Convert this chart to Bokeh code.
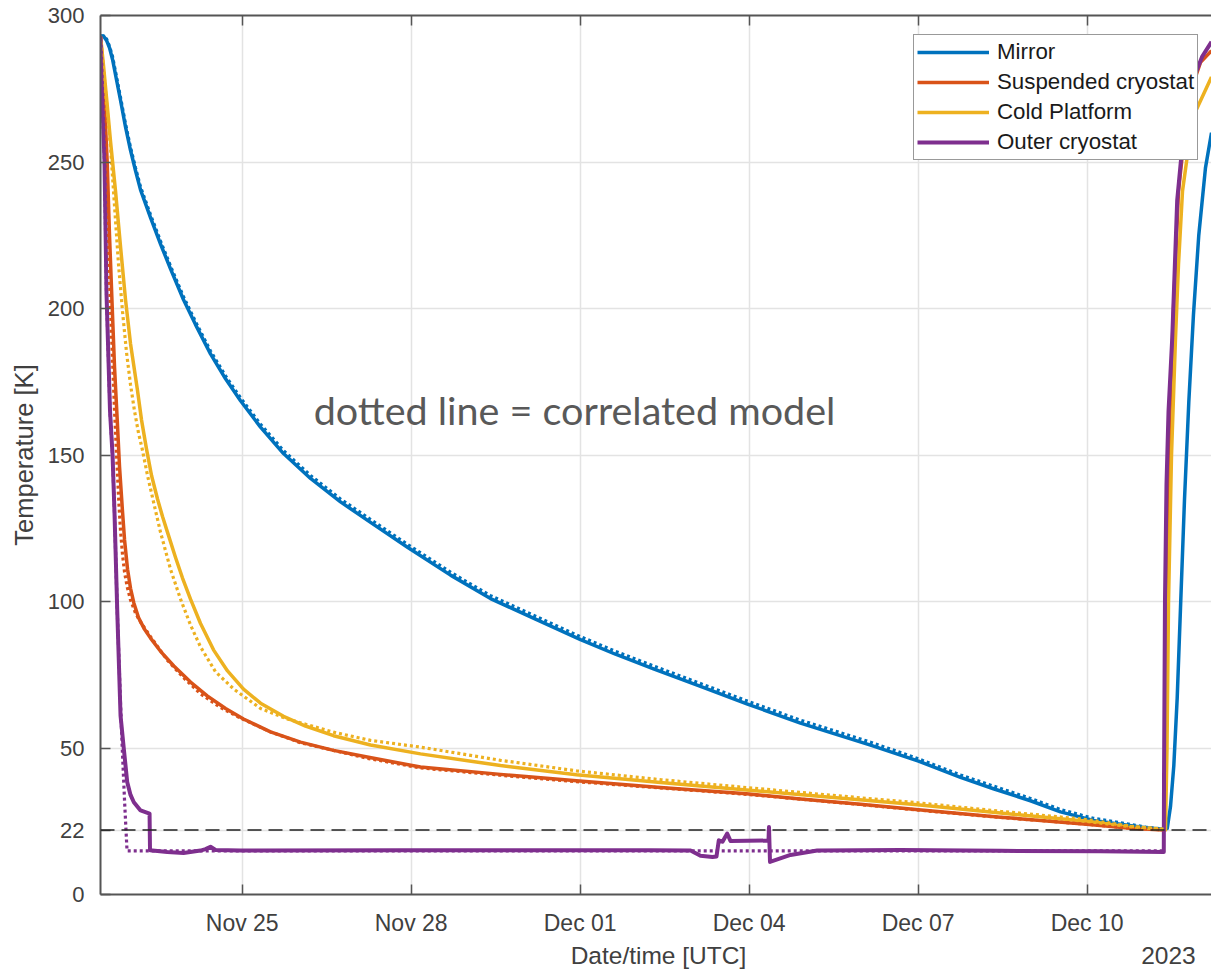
from datetime import datetime, timedelta
from bokeh.plotting import figure
from bokeh.models import (Range1d, FixedTicker, DatetimeTickFormatter, DatetimeAxis,
                          Span, Label, Legend, LegendItem)
from bokeh.embed import file_html
from bokeh.resources import INLINE

# ---------------- data (days since 2023-11-22 00:00 UTC, temperature in K) -------------
mirror_t = [0.484, 0.537, 0.591, 0.644, 0.698, 0.769, 0.840, 0.928, 1.017, 1.106, 1.195, 1.372,
            1.550, 1.727, 1.958, 2.171, 2.437, 2.704, 2.970, 3.325, 3.733, 4.213, 4.745,
            5.278, 5.934, 6.698, 7.408, 8.207, 9.006, 9.627, 10.302, 11.136, 11.970, 12.911,
            14.154, 15.006, 15.752, 16.337, 16.994, 17.527, 18.113, 18.592, 19.036, 19.356,
            19.422, 19.480, 19.539, 19.599, 19.658, 19.729, 19.805, 19.888, 19.982, 20.101, 20.208]
mirror_T = [293, 293, 291.5, 289, 285, 278, 271, 262, 254, 247, 240.5, 231,
            222, 213.5, 203, 194.5, 184.5, 176, 168.5, 159.5, 150.5, 142, 134,
            127, 118.5, 109, 101, 94, 87, 82, 77, 71, 65, 58.5,
            51, 45.5, 40, 36.1, 32, 28.2, 25.3, 24.0, 22.8, 22.3,
            22.5, 30, 44, 67, 98, 135, 168, 198, 225, 248, 260]
mirror_model_t = mirror_t[:44]
mirror_model_T = [293, 293, 292, 289.5, 286, 279, 272, 263, 255, 248, 241.5, 232,
                  223, 214.5, 204, 195.5, 185.5, 177, 169.5, 160.5, 151.5, 143, 135,
                  128, 119.5, 110, 102, 95, 88, 83, 78, 72, 66, 59.5,
                  52, 46.3, 40.8, 37, 32.8, 29, 26, 24.5, 23, 22.3]

susp_t = [0.484, 0.520, 0.555, 0.603, 0.644, 0.693, 0.733, 0.781, 0.822, 0.870, 0.911, 0.964,
          1.017, 1.076, 1.159, 1.266, 1.372, 1.550, 1.786, 2.082, 2.379, 2.704, 3.023, 3.502,
          4.035, 4.621, 5.219, 6.165, 7.586, 8.935, 10.426, 11.953, 12.911, 13.977, 15.006,
          16.462, 17.989, 18.770, 19.356,
          19.374, 19.391, 19.418, 19.463, 19.534, 19.622, 19.799, 20.013, 20.208]
susp_T = [293, 283, 270, 250, 225, 200, 180, 162, 146, 132, 121, 111,
          104.5, 99.5, 94.5, 90.5, 87.5, 83, 78, 72.5, 67.8, 63.5, 59.9, 55.5,
          52, 49.2, 46.9, 43.5, 41, 38.8, 36.5, 34.4, 32.6, 30.8, 28.9,
          26.4, 24, 22.6, 22,
          22, 60, 110, 160, 200, 240, 272, 284, 288]
susp_model_t = [0.484, 0.537, 0.573, 0.617, 0.662, 0.698, 0.733, 0.769, 0.809, 0.840, 0.875,
                0.911, 0.958, 1.017, 1.106, 1.195, 1.372, 1.669, 1.958, 2.260, 2.615, 2.970,
                3.502, 4.035, 5.219, 6.165, 7.586, 8.935, 11.953, 13.977, 15.006, 16.462,
                17.989, 18.770, 19.356]
susp_model_T = [293, 270, 250, 225, 200, 182, 165, 150, 134, 124, 116,
                110, 105, 100.5, 96, 93, 88, 80, 74, 68.5, 63.8, 60.2,
                55.5, 51.8, 46.5, 43.2, 40.7, 38.5, 34.2, 30.7, 28.8, 26.3,
                24.0, 22.6, 22.1]

cold_t = [0.484, 0.537, 0.591, 0.662, 0.751, 0.840, 0.928, 1.017, 1.141, 1.212, 1.301, 1.390,
          1.496, 1.585, 1.674, 1.816, 1.940, 2.082, 2.260, 2.490, 2.739, 3.023, 3.325, 3.733,
          4.124, 4.621, 5.278, 6.165, 7.586, 8.935, 10.426, 11.953, 13.444, 14.988, 16.462,
          17.989, 18.770, 19.356,
          19.391, 19.418, 19.445, 19.498, 19.569, 19.622, 19.693, 19.871, 20.208]
cold_T = [293, 283, 272, 257, 240, 221, 203, 188, 172, 162, 152, 143,
          135, 129, 123.6, 115, 108, 100.8, 92.5, 83.5, 76.3, 70.1, 65.3, 60.8,
          57.5, 54.2, 51, 48, 44, 40.9, 38.2, 35.7, 33.2, 30.6, 27.8,
          25.0, 23.2, 22.2,
          22, 50, 100, 150, 190, 215, 240, 265, 279]
cold_model_t = [0.484, 0.555, 0.662, 0.733, 0.804, 0.875, 0.946, 1.017, 1.088, 1.159, 1.225,
                1.319, 1.425, 1.550, 1.727, 1.905, 2.082, 2.260, 2.526, 2.851, 3.325, 3.799,
                4.621, 5.278, 6.165, 7.586, 8.935, 10.426, 11.953, 13.444, 14.988, 16.462,
                17.989, 18.770, 19.356]
cold_model_T = [293, 278, 255, 235, 215, 199, 185, 174, 165, 157.5, 152,
                143, 134, 123.6, 111, 100.8, 92, 84.5, 76, 70.1, 63.5, 59.9,
                55.4, 52.6, 50.3, 45.8, 42.2, 39.2, 36.5, 33.9, 31.3, 28.4,
                25.6, 23.3, 22.3]

outer_t = [0.484, 0.520, 0.555, 0.591, 0.653, 0.698, 0.733, 0.781, 0.840, 0.898, 0.958, 1.017,
           1.076, 1.195, 1.355, 1.363, 1.669, 1.958, 2.260, 2.349, 2.437, 2.526, 2.970, 5.810,
           10.249, 10.959, 11.136, 11.349, 11.420, 11.461, 11.527, 11.610, 11.668, 12.343,
           12.352, 12.370, 12.734, 13.208, 14.687, 16.462, 18.237, 19.361, 19.365, 19.382,
           19.409, 19.445, 19.511, 19.599, 19.776, 20.043, 20.208]
outer_T = [293, 270, 250, 205, 165, 150, 130, 97, 61, 49.7, 38.4, 34,
           31.5, 28.7, 27.6, 15.1, 14.5, 14.2, 15.0, 15.5, 16.3, 15.2, 15.0, 15.1,
           15.1, 15.0, 13.2, 12.8, 13.0, 18.5, 18.0, 20.8, 18.3, 18.4,
           23, 11.1, 13.5, 15.0, 15.2, 14.9, 14.8, 14.5, 40, 100,
           140, 165, 190, 237, 273, 286, 291]
outer_model_t = [0.484, 0.520, 0.555, 0.591, 0.653, 0.698, 0.733, 0.781, 0.840, 0.870, 0.911,
                 0.955, 19.361]
outer_model_T = [293, 270, 250, 205, 165, 150, 130, 97, 65, 50, 32, 14.9, 14.9]

x_tick_days = [3, 6, 9, 12, 15, 18]          # Nov 25 ... Dec 10
y_ticks = [0, 22, 50, 100, 150, 200, 250, 300]
threshold = 22
x_start_day, x_end_day = 0.484, 20.208
xlabel_day, year_day = 10.390, 19.444

series_names = ["Mirror", "Suspended cryostat", "Cold Platform", "Outer cryostat"]
colors = ["#0072BD", "#D95319", "#EDB120", "#7E2F8E"]
solid_widths = [3.5, 3.5, 3.5, 4.0]

# ---------------- helpers -------------
BASE = datetime(2023, 11, 22)
EPOCH = datetime(1970, 1, 1)


def ms(d):
    return float(round((BASE + timedelta(days=d) - EPOCH).total_seconds() * 1000.0))


def to_ms(days):
    return [ms(d) for d in days]


p = figure(width=1211, height=971, x_axis_type="datetime",
           x_range=Range1d(ms(x_start_day), ms(x_end_day)), y_range=Range1d(0, 300),
           output_backend="svg", toolbar_location=None,
           min_border_left=100, min_border_right=0, min_border_top=15, min_border_bottom=75)
p.outline_line_color = None
p.background_fill_color = "white"
p.border_fill_color = "white"

FONT = "Liberation Sans"
tick_color = "#404040"
axis_color = "#555555"

xticker = FixedTicker(ticks=to_ms(x_tick_days))
fmt = DatetimeTickFormatter(days="%b %d", months="%b %d", hours="%b %d", years="%b %d")
xax = p.xaxis[0]
yax = p.yaxis[0]
xax.ticker = xticker
xax.formatter = fmt
yax.ticker = FixedTicker(ticks=y_ticks)

for ax in (xax, yax):
    ax.major_tick_in = 10
    ax.major_tick_out = 0
    ax.minor_tick_in = 0
    ax.minor_tick_out = 0
    ax.major_tick_line_color = axis_color
    ax.major_tick_line_width = 1.5
    ax.axis_line_color = axis_color
    ax.axis_line_width = 2
    ax.major_label_text_font = FONT
    ax.major_label_text_color = tick_color
    ax.axis_label_text_font = FONT
    ax.axis_label_text_font_style = "normal"
    ax.axis_label_text_color = tick_color

xax.major_label_text_font_size = "23px"
yax.major_label_text_font_size = "22px"
xax.major_label_standoff = 15
yax.axis_label = "Temperature [K]"
yax.axis_label_text_font_size = "25.5px"
yax.major_label_standoff = 16
yax.axis_label_standoff = 7

# second row below the tick labels: x label and year
xl_ms, yr_ms = ms(xlabel_day), ms(year_day)
row2 = DatetimeAxis(ticker=FixedTicker(ticks=[xl_ms, yr_ms]), formatter=fmt,
                    major_label_overrides={xl_ms: "Date/time [UTC]", yr_ms: "2023"},
                    axis_line_color=None, major_tick_line_color=None,
                    major_tick_in=0, major_tick_out=0, minor_tick_in=0, minor_tick_out=0,
                    major_label_standoff=3, major_label_text_font=FONT,
                    major_label_text_font_size="24.5px", major_label_text_color=tick_color)
p.add_layout(row2, "below")

top = DatetimeAxis(ticker=xticker, formatter=fmt, major_label_text_font_size="1px",
                   major_label_text_color=None,
                   major_tick_in=10, major_tick_out=0, minor_tick_in=0, minor_tick_out=0,
                   major_tick_line_color=axis_color, major_tick_line_width=1.5,
                   axis_line_color=axis_color, axis_line_width=2, major_label_standoff=0)
p.add_layout(top, "above")

p.xgrid.ticker = xticker
p.ygrid.ticker = FixedTicker(ticks=y_ticks)
for g in (p.xgrid[0], p.ygrid[0]):
    g.grid_line_color = "#e3e3e3"
    g.grid_line_width = 1.5

# ---------------- lines -------------
solid = [(mirror_t, mirror_T), (susp_t, susp_T), (cold_t, cold_T), (outer_t, outer_T)]
model = [(mirror_model_t, mirror_model_T), (susp_model_t, susp_model_T),
         (cold_model_t, cold_model_T), (outer_model_t, outer_model_T)]

items = []
for (t, T), c, w, name in zip(solid, colors, solid_widths, series_names):
    r = p.line(to_ms(t), T, line_color=c, line_width=w, line_join="round")
    items.append(LegendItem(label=name, renderers=[r]))
for (t, T), c in zip(model, colors):
    p.line(to_ms(t), T, line_color=c, line_width=3.2, line_dash="3 3", line_cap="butt")

p.add_layout(Span(location=threshold, dimension="width", line_color="#222222",
                  line_width=1.5, line_dash="14 7"))

legend = Legend(items=items, location=(813, 734), orientation="vertical",
                label_text_font=FONT, label_text_font_size="22.3px",
                label_text_color="#1a1a1a", glyph_width=72, glyph_height=28,
                label_height=28, spacing=2, padding=3, margin=0, label_standoff=8,
                border_line_color="#333333", border_line_width=1.2,
                background_fill_color="white", background_fill_alpha=1.0)
p.add_layout(legend)

p.add_layout(Label(x=ms(8.899), y=165.5, text="dotted line = correlated model",
                   text_font="Lato", text_font_size="39.5px", text_color="#595959",
                   text_align="center", text_baseline="middle"))

open("out.html", "w").write(file_html(p, INLINE))
